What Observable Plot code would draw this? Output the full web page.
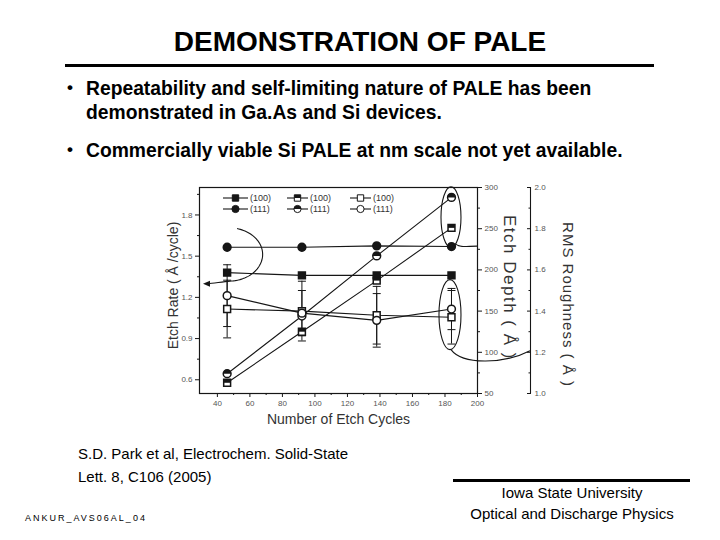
<!DOCTYPE html>
<html><head><meta charset="utf-8">
<script src="https://cdn.jsdelivr.net/npm/d3@7"></script>
<script src="https://cdn.jsdelivr.net/npm/@observablehq/plot@0.6"></script>
<style>
html,body{margin:0;padding:0;background:#fff}
body{width:720px;height:540px;position:relative;overflow:hidden;font-family:"Liberation Sans",Arial,sans-serif;color:#000}
.t{position:absolute;white-space:nowrap;line-height:1}
#chart{position:absolute;left:160px;top:175px}
</style></head><body>
<div class="t" style="left:0;width:720px;top:28px;text-align:center;font-size:28px;font-weight:bold">DEMONSTRATION OF PALE</div>
<div style="position:absolute;left:65px;top:64px;width:589px;height:3px;background:#000"></div>
<div class="t" style="left:67px;top:79px;font-size:17px;font-weight:bold">•</div>
<div class="t" style="left:86px;top:79px;font-size:19.3px;font-weight:bold">Repeatability and self-limiting nature of PALE has been</div>
<div class="t" style="left:86px;top:103px;font-size:19.3px;font-weight:bold">demonstrated in Ga.As and Si devices.</div>
<div class="t" style="left:67px;top:141px;font-size:17px;font-weight:bold">•</div>
<div class="t" style="left:86px;top:141px;font-size:19.3px;font-weight:bold">Commercially viable Si PALE at nm scale not yet available.</div>
<div id="chart"></div>
<div class="t" style="left:78px;top:446px;font-size:15px">S.D. Park et al, Electrochem. Solid-State</div>
<div class="t" style="left:78px;top:469px;font-size:15px">Lett. 8, C106 (2005)</div>
<div class="t" style="left:25px;top:514px;font-size:9px;letter-spacing:2px">ANKUR_AVS06AL_04</div>
<div style="position:absolute;left:453px;top:479px;width:237px;height:3px;background:#000"></div>
<div class="t" style="left:453px;width:238px;text-align:center;top:485px;font-size:15px">Iowa State University</div>
<div class="t" style="left:453px;width:238px;text-align:center;top:506px;font-size:15px">Optical and Discharge Physics</div>
<script>
// ---- data ----
const cycles = [46, 92, 138, 184];
const rate100 = [1.38, 1.36, 1.36, 1.36];
const rate111 = [1.565, 1.565, 1.575, 1.57];
const depth100 = [63, 125, 187, 251];
const depth111 = [74, 144, 217, 288];
const rms100 = [1.41, 1.40, 1.38, 1.37];
const rms111 = [1.475, 1.39, 1.355, 1.41];
const rms100Err = [0.14, 0.145, 0.14, 0.13];
const rms111Err = [0.15, 0.11, 0.13, 0.10];
const xDomain = [29, 200];
const rateDomain = [0.5, 2.0];
const depthDomain = [50, 300];
const rmsDomain = [1.0, 2.0];
const xTicks = [40, 60, 80, 100, 120, 140, 160, 180, 200];
const xMinor = [50, 70, 90, 110, 130, 150, 170, 190];
const rateTicks = [0.6, 0.9, 1.2, 1.5, 1.8];
const rateMinor = [0.75, 1.05, 1.35, 1.65, 1.95];
const depthTicks = [50, 100, 150, 200, 250, 300];
const depthMinor = [75, 125, 175, 225, 275];
const rmsTicks = [1.0, 1.2, 1.4, 1.6, 1.8, 2.0];
const rmsMinor = [1.1, 1.3, 1.5, 1.7, 1.9];
const legendLabels = ["(100)", "(111)", "(100)", "(111)", "(100)", "(111)"];

// ---- mapping secondary axes onto the etch-rate scale ----
const span = rateDomain[1] - rateDomain[0];
const depthToRate = d => rateDomain[0] + (d - depthDomain[0]) / (depthDomain[1] - depthDomain[0]) * span;
const rateToDepth = v => depthDomain[0] + (v - rateDomain[0]) / span * (depthDomain[1] - depthDomain[0]);
const rmsToRate = r => rateDomain[0] + (r - rmsDomain[0]) / (rmsDomain[1] - rmsDomain[0]) * span;
const rateToRms = v => rmsDomain[0] + (v - rateDomain[0]) / span * (rmsDomain[1] - rmsDomain[0]);

const rows = (name, vals, f) => cycles.map((c, i) => ({series: name, x: c, y: f(vals[i]), i}));
const sRate100 = rows("rate100", rate100, v => v);
const sRate111 = rows("rate111", rate111, v => v);
const sDepth100 = rows("depth100", depth100, depthToRate);
const sDepth111 = rows("depth111", depth111, depthToRate);
const sRms100 = rows("rms100", rms100, rmsToRate);
const sRms111 = rows("rms111", rms111, rmsToRate);
const allRows = [...sRate100, ...sRate111, ...sDepth100, ...sDepth111, ...sRms100, ...sRms111];

const errRows = [
  ...cycles.map((c, i) => ({x: c, lo: rmsToRate(rms100[i] - rms100Err[i]), hi: rmsToRate(rms100[i] + rms100Err[i])})),
  ...cycles.map((c, i) => ({x: c, lo: rmsToRate(rms111[i] - rms111Err[i]), hi: rmsToRate(rms111[i] + rms111Err[i])}))
];
const capRows = errRows.flatMap(d => [{x: d.x, y: d.lo}, {x: d.x, y: d.hi}]);

// ---- custom symbols ----
const halfSquare = {draw(ctx, size) { const w = Math.sqrt(size); ctx.rect(-w / 2, -w / 2, w, w / 2); }};
const halfCircle = {draw(ctx, size) { const r = Math.sqrt(size / Math.PI); ctx.moveTo(r, 0); ctx.arc(0, 0, r, 0, Math.PI, true); ctx.closePath(); }};
const capSymbol = {draw(ctx, size) { const w = Math.sqrt(size / Math.PI); ctx.moveTo(-w, 0); ctx.lineTo(w, 0); }};

const INK = "#161616";
const R = 3.9;

function overlay(index, scales, values, dimensions) {
  const {x, y} = scales;
  const {marginLeft, marginTop, width, marginRight} = dimensions;
  const g = d3.create("svg:g");
  const ann = g.append("g").attr("fill", "none").attr("stroke", INK).attr("stroke-width", 1.1);
  // arc around etch-rate points at first cycle, arrow to left axis
  {
    const y1 = y(rate111[0]), y2 = y(rate100[0]);
    const cx = x(cycles[0]) + 2, cy = (y1 + y2) / 2 - 5, rx = 34, ry = (y2 - y1) / 2 + 14;
    const pts = d3.range(-0.42 * Math.PI, 0.5 * Math.PI + 0.001, 0.05).map(t => [cx + rx * Math.cos(t), cy + ry * Math.sin(t)]);
    const end = pts[pts.length - 1];
    const tipX = marginLeft + 4, tipY = end[1] + 2.5;
    const p = d3.path();
    p.moveTo(...pts[0]);
    pts.slice(1).forEach(q => p.lineTo(...q));
    p.bezierCurveTo(end[0] - 8, end[1] + 0.5, tipX + 10, tipY, tipX + 5, tipY);
    ann.append("path").attr("d", p.toString());
    g.append("path").attr("fill", INK)
      .attr("d", `M${tipX},${tipY}L${tipX + 7},${tipY - 3}L${tipX + 7},${tipY + 3}Z`);
  }
  // ellipse around last etch-depth points
  {
    const y1 = y(depthToRate(depth111[3])), y2 = y(depthToRate(depth100[3]));
    const cx = x(cycles[3]), cy = (y1 + y2) / 2 + 5, ry = (y2 - y1) / 2 + 15, rx = 10;
    ann.append("ellipse").attr("cx", cx).attr("cy", cy).attr("rx", rx).attr("ry", ry);
    const sx = cx + rx * Math.cos(1.1), sy = cy + ry * Math.sin(1.1);
    const ex = width - marginRight, ey = sy + 2;
    ann.append("path").attr("d", `M${sx},${sy}C${sx + 6},${sy + 4} ${ex - 10},${ey} ${ex},${ey}`);
  }
  // ellipse around last roughness points, connector to RMS axis
  {
    const y1 = y(rmsToRate(rms111[3])), y2 = y(rmsToRate(rms100[3]));
    const cx = x(cycles[3]) - 1, cy = (y1 + y2) / 2 + 2, ry = 35, rx = 11;
    ann.append("ellipse").attr("cx", cx).attr("cy", cy).attr("rx", rx).attr("ry", ry);
    const sx = cx + 1, sy = cy + ry;
    const ex = width - marginRight + 53, ey = sy + 1;
    ann.append("path").attr("d", `M${sx},${sy}C${sx + 12},${sy + 16} ${ex - 25},${sy + 14} ${ex},${ey}`);
  }
  // legend
  const cols = [24, 88, 151], rowsY = [11, 22];
  const kinds = [["fsq", "fci"], ["hsq", "hci"], ["osq", "oci"]];
  const leg = g.append("g").attr("transform", `translate(${marginLeft},${marginTop})`);
  const size = Math.PI * R * R * 0.85;
  kinds.forEach((col, ci) => col.forEach((k, ri) => {
    const lx = cols[ci], ly = rowsY[ri];
    const len = ci === 0 ? 25 : 21;
    leg.append("line").attr("x1", lx).attr("x2", lx + len).attr("y1", ly).attr("y2", ly).attr("stroke", INK).attr("stroke-width", 1.1);
    const mx = lx + len / 2;
    const isSq = k.endsWith("sq");
    const base = d3.symbol(isSq ? d3.symbolSquare : d3.symbolCircle, size)();
    const filled = k.startsWith("f");
    leg.append("path").attr("transform", `translate(${mx},${ly})`).attr("d", base)
      .attr("fill", filled ? INK : "white").attr("stroke", INK).attr("stroke-width", 1);
    if (k.startsWith("h")) {
      leg.append("path").attr("transform", `translate(${mx},${ly})`)
        .attr("d", d3.symbol(isSq ? halfSquare : halfCircle, size)()).attr("fill", INK);
    }
    leg.append("text").attr("x", lx + len + 2).attr("y", ly).attr("dy", "0.35em")
      .attr("text-anchor", "start").attr("font-size", 9).attr("fill", "#333").text(legendLabels[ci * 2 + ri]);
  }));
  return g.node();
}

const axisStyle = {fontSize: 8, fill: "#555", stroke: INK, label: null, tickPadding: 3};

const chart = Plot.plot({
  width: 420,
  height: 257,
  marginLeft: 39,
  marginRight: 103,
  marginTop: 12,
  marginBottom: 39,
  x: {domain: xDomain},
  y: {domain: rateDomain},
  style: {fontFamily: "'Liberation Sans', Arial, sans-serif", background: "white", overflow: "visible"},
  marks: [
    // axes
    Plot.axisX({...axisStyle, ticks: xTicks, tickSize: 4, tickFormat: d => String(d)}),
    Plot.axisX({...axisStyle, ticks: xMinor, tickSize: 2, fill: "none"}),
    Plot.axisY({...axisStyle, anchor: "left", ticks: rateTicks, tickSize: 4, tickFormat: d3.format(".1f")}),
    Plot.axisY({...axisStyle, anchor: "left", ticks: rateMinor, tickSize: 2, fill: "none"}),
    Plot.axisY({...axisStyle, anchor: "right", ticks: depthTicks.map(depthToRate), tickSize: 4, tickFormat: v => String(Math.round(rateToDepth(v)))}),
    Plot.axisY({...axisStyle, anchor: "right", ticks: depthMinor.map(depthToRate), tickSize: 2, fill: "none"}),
    Plot.axisY({...axisStyle, anchor: "right", ticks: rmsTicks.map(rmsToRate), tickSize: 4, dx: 49, fill: "none"}),
    Plot.axisY({...axisStyle, anchor: "right", ticks: rmsMinor.map(rmsToRate), tickSize: 2.5, dx: 50.5, fill: "none"}),
    Plot.axisY({...axisStyle, anchor: "right", ticks: rmsTicks.map(rmsToRate), tickSize: 0, tickPadding: 0, dx: 57, tickFormat: v => d3.format(".1f")(rateToRms(v))}),
    Plot.ruleX([xDomain[1]], {x: d => d, y1: rateDomain[0], y2: rateDomain[1], dx: 53, stroke: INK, strokeWidth: 1.1}),
    Plot.frame({stroke: INK, strokeWidth: 1.2}),
    // axis titles
    Plot.text(["Etch Rate ( Å /cycle)"], {frameAnchor: "left", textAnchor: "middle", dx: -26, dy: -5, rotate: -90, fontSize: 14, fill: "#333"}),
    Plot.text(["Number of Etch Cycles"], {frameAnchor: "bottom", textAnchor: "middle", dy: 30, fontSize: 14, fill: "#333"}),
    Plot.text(["Etch Depth ( Å )"], {frameAnchor: "right", textAnchor: "middle", dx: 32, dy: -3, rotate: 90, fontSize: 17, fill: "#333"}),
    Plot.text(["RMS Roughness ( Å )"], {frameAnchor: "right", textAnchor: "middle", dx: 90, dy: 14, rotate: 90, fontSize: 15, fill: "#333"}),
    // error bars
    Plot.ruleX(errRows, {x: "x", y1: "lo", y2: "hi", stroke: INK, strokeWidth: 1}),
    Plot.dot(capRows, {x: "x", y: "y", symbol: capSymbol, r: 4, stroke: INK, strokeWidth: 1, fill: "none"}),
    // lines
    Plot.line(allRows, {x: "x", y: "y", z: "series", stroke: INK, strokeWidth: 1.1}),
    // markers
    Plot.dot(sRate100, {x: "x", y: "y", symbol: "square", r: R, fill: INK, stroke: INK}),
    Plot.dot(sRate111, {x: "x", y: "y", symbol: "circle", r: R, fill: INK, stroke: INK}),
    Plot.dot(sDepth100, {x: "x", y: "y", symbol: "square", r: R, fill: "white", stroke: INK}),
    Plot.dot(sDepth100, {x: "x", y: "y", symbol: halfSquare, r: R, fill: INK}),
    Plot.dot(sDepth111, {x: "x", y: "y", symbol: "circle", r: R, fill: "white", stroke: INK}),
    Plot.dot(sDepth111, {x: "x", y: "y", symbol: halfCircle, r: R, fill: INK}),
    Plot.dot(sRms100, {x: "x", y: "y", symbol: "square", r: R, fill: "white", stroke: INK}),
    Plot.dot(sRms111, {x: "x", y: "y", symbol: "circle", r: R, fill: "white", stroke: INK}),
    overlay
  ]
});
// the scanned original stretches the vertical titles a little
const spacing = {"Etch Depth ( Å )": "1.5px", "RMS Roughness ( Å )": "1px"};
d3.select(chart).selectAll("text").each(function () {
  const s = spacing[this.textContent];
  if (s) d3.select(this).attr("letter-spacing", s);
});
document.getElementById("chart").appendChild(chart);
</script>
</body></html>
